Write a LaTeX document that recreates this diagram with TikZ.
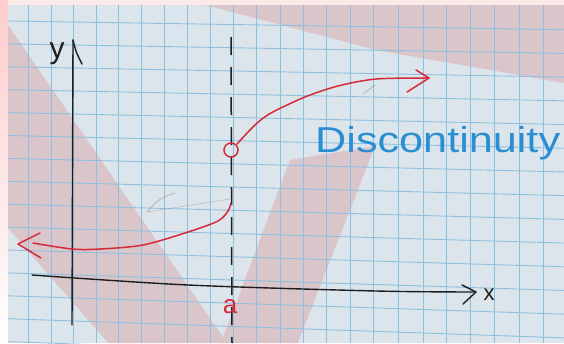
\documentclass[tikz,border=0pt]{standalone}
\usepackage{fontspec}
\setmainfont{Liberation Sans}
\definecolor{paper}{HTML}{DDE5EC}
\definecolor{outside}{HTML}{FBE9EA}
\definecolor{pinkband}{HTML}{DAC5CB}
\definecolor{gridblue}{HTML}{8DBFE0}
\definecolor{penred}{HTML}{D42A3A}
\definecolor{penblue}{HTML}{2A8FD2}
\definecolor{penblack}{HTML}{1E1E1E}
\tikzset{
  gridline/.style={draw=gridblue, line width=0.9pt},
  axisline/.style={draw=penblack, line width=1.4pt, line cap=round, line join=round},
  redline/.style={draw=penred, line width=1.5pt, line cap=round, line join=round},
  pencil/.style={draw=gray!70, line width=0.6pt, line cap=round},
  dashline/.style={draw=penblack, line width=1.5pt, dash pattern=on 18pt off 12pt}
}
\begin{document}
\begin{tikzpicture}[x=1pt,y=-1pt]
\useasboundingbox (0,0) rectangle (564,343);
% background: outside of paper
\fill[outside] (0,0) rectangle (564,343);
\shade[top color=pink!70!outside, bottom color=white] (0,0) rectangle (8,343);
% paper
\fill[paper] (8,5) rectangle (564,343);
% pink watermark bands
\fill[pinkband] (8,25) -- (227,343) -- (108,343) -- (8,228) -- cycle;
\fill[pinkband] (221,343) -- (290,160) -- (375,146) -- (298,343) -- cycle;
\fill[pinkband] (205,5) -- (564,5) -- (564,83) -- (376,50) -- cycle;
% grid
\foreach \gx in {28,51,73,96,118,141,164,187,210,233,256,280,303,326,350,373,398,423,446,470,494,519,543}
  \draw[gridline] (\gx,5) -- (\gx,343);
\foreach \i in {0,...,14}{
  \pgfmathsetmacro{\yl}{21+22.9*\i}
  \pgfmathsetmacro{\yr}{\yl+8+0.035*\yl}
  \draw[gridline] (8,\yl) -- (564,\yr);
}
% pencil marks
\draw[pencil] (147,212) .. controls (155,201) and (164,196) .. (175,193);
\draw[pencil, line width=0.3pt] (147,212) -- (230,199);
\draw[pencil] (363,94) -- (375,85);
% y axis
\coordinate (ytop) at (73,40);
\coordinate (ybot) at (72,325);
\draw[axisline] (ytop) -- (ybot);
\draw[axisline] (ytop) .. controls (76,52) .. (82,64);
\node[text=penblack, font=\fontsize{30}{30}\selectfont] (ylab) at (57,54) {y};
% x axis
\coordinate (xl) at (32,275);
\coordinate (xr) at (476,292);
\draw[axisline] plot[smooth] coordinates {(32,275) (188,285) (376,291) (476,292)};
\draw[axisline] (462,285) -- (xr) -- (463,304);
\node[text=penblack, font=\fontsize{22}{22}\selectfont] (xlab) at (489,295) {x};
% dashed asymptote
\coordinate (dtop) at (231,37);
\coordinate (dbot) at (232,343);
\draw[dashline] (dtop) -- (dbot);
% open circle
\node[circle, draw=penred, line width=1.5pt, minimum size=14pt, inner sep=0pt] (hole) at (231,150) {};
% upper branch
\draw[redline] plot[smooth] coordinates {(237,144) (255,125) (271,113) (305,97) (338,86) (376,79) (429,78)};
\coordinate (uptip) at (429,78);
\draw[redline] (416,70) -- (uptip) -- (407,92);
% lower branch
\coordinate (lowend) at (231,203);
\draw[redline] plot[smooth] coordinates {(231,203) (228,211) (218,221) (188,232) (143,245) (100,249) (72,249) (33,243)};
\coordinate (lowtip) at (18,244);
\draw[redline] (40,233) -- (lowtip) -- (41,258);
% labels
\node[text=penred, font=\fontsize{26}{26}\selectfont] (alab) at (230,307) {a};
\node[text=penblue, font=\fontsize{36}{36}\selectfont, anchor=base west, inner sep=0pt, xscale=1.2] (disc) at (315,152) {Discontinuity};
\end{tikzpicture}
\end{document}
